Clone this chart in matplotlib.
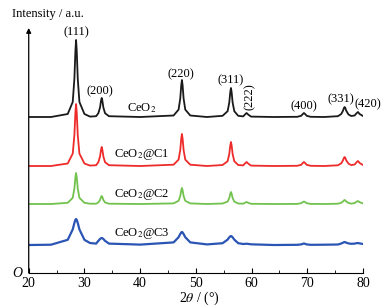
import numpy as np
import matplotlib.pyplot as plt
from matplotlib.ticker import MultipleLocator

plt.rcParams['font.family'] = ['Liberation Serif', 'DejaVu Serif']
plt.rcParams['mathtext.fontset'] = 'stix'

# 2theta sampling points (deg), read around each reflection
two_theta = [20.0, 24.0,
             27.0, 27.9, 28.2, 28.38, 28.5, 28.62, 28.8, 29.1, 30.0,
             31.0,
             32.1, 32.5, 32.8, 32.98, 33.1, 33.22, 33.4, 33.7, 34.4,
             40.0,
             46.0, 46.9, 47.2, 47.38, 47.5, 47.62, 47.8, 48.1, 49.0,
             52.0,
             54.8, 55.7, 56.0, 56.18, 56.3, 56.42, 56.6, 56.9, 57.6,
             58.5, 58.8, 59.1, 59.4, 59.9,
             64.0,
             68.2, 68.9, 69.2, 69.4, 69.6, 69.9, 70.6,
             73.0,
             75.5, 76.1, 76.4, 76.58, 76.7, 76.82, 77.0, 77.4, 77.9,
             78.5, 78.8, 79.1, 79.4, 80.0]

# intensities (a.u., already stacked)
ceo2 = [156, 156,
        159, 171, 194.5, 222, 233, 222, 194.5, 171, 159,
        156.4,
        156.8, 159.8, 165.5, 172.3, 175, 172.3, 165.5, 159.8, 156.8,
        156,
        157.5, 163.4, 174.5, 187.8, 193, 187.8, 174.5, 163.4, 157.5,
        156,
        157.2, 161.8, 170.5, 180.9, 185, 180.9, 170.5, 161.8, 157.2,
        156.6, 158.4, 160, 158.4, 156.4,
        156,
        156.2, 157.2, 159, 160, 159, 157.2, 156.2,
        156,
        156.8, 159, 162.2, 165, 166, 165, 162.2, 158.5, 157,
        157.5, 159.5, 161, 159, 157]

ceo2_c1 = [107, 107,
           109.5, 119.4, 138, 160.3, 169, 160.3, 138, 119.4, 109.5,
           107.4,
           107.8, 110.8, 116.5, 123.3, 126, 123.3, 116.5, 110.8, 107.8,
           107,
           108.3, 113.4, 123, 134.5, 139, 134.5, 123, 113.4, 108.3,
           107,
           108, 111.8, 119, 127.6, 131, 127.6, 119, 111.8, 108,
           107.6, 109.4, 111, 109.4, 107.4,
           107,
           107.2, 108.2, 110, 111, 110, 108.2, 107.2,
           107,
           107.7, 109.7, 112.6, 115.1, 116, 115.1, 112.6, 109.3, 107.9,
           108.5, 110.5, 112, 110, 108]

ceo2_c2 = [69, 69,
           70.2, 75.2, 84.5, 95.7, 100, 95.7, 84.5, 75.2, 70.2,
           69.3,
           69.3, 70.6, 73, 75.9, 77, 75.9, 73, 70.6, 69.3,
           69,
           69.6, 72.2, 77, 82.8, 85, 82.8, 77, 72.2, 69.6,
           69,
           69.5, 71.4, 75, 79.3, 81, 79.3, 75, 71.4, 69.5,
           69.3, 70.2, 71, 70.2, 69.2,
           69,
           69.1, 69.8, 70.9, 71.5, 70.9, 69.8, 69.1,
           69,
           69.3, 70.2, 71.5, 72.6, 73, 72.6, 71.5, 70, 69.4,
           69.9, 71.1, 72, 70.8, 69.6]

ceo2_c3 = [28, 28.3,
           33.2, 43.6, 50.1, 53.2, 54, 53.2, 50.1, 43.6, 33.2,
           30.0,
           29.4, 32.2, 34, 34.8, 35, 34.8, 34, 32.2, 29.4,
           28.4,
           30.6, 35.8, 39, 40.6, 41, 40.6, 39, 35.8, 30.6,
           28.6,
           29.8, 33.4, 35.7, 36.7, 37, 36.7, 35.7, 33.4, 29.8,
           29.0, 29.1, 29.3, 29.1, 28.7,
           28,
           28.2, 28.6, 29.2, 29.5, 29.2, 28.6, 28.2,
           28.3,
           28.5, 29.5, 30.3, 30.8, 31, 30.8, 30.3, 29.6, 29.2,
           29.4, 29.8, 30, 29.6, 29]

series = [ceo2, ceo2_c1, ceo2_c2, ceo2_c3]
names = ['CeO$_2$', 'CeO$_2$@C1', 'CeO$_2$@C2', 'CeO$_2$@C3']
colors = ['#1a1a1a', '#ee2b2b', '#72c24e', '#2a55b4']

hkl = ['(111)', '(200)', '(220)', '(311)', '(222)', '(400)', '(331)', '(420)']
hkl_pos = [(28.5, 241), (32.8, 182), (47.4, 199), (56.3, 193),
           (59.6, 176), (69.3, 167), (76.1, 174), (80.8, 169)]

fig = plt.figure(figsize=(3.86, 3.08), dpi=100)
ax = fig.add_axes([0.0744, 0.1136, 0.866, 0.7955])

for y, c, lw in zip(series, colors, [1.3, 1.3, 1.3, 1.6]):
    ax.plot(two_theta, y, color=c, lw=lw)

name_y = [165, 119, 79, 40]
for n, yy in zip(names, name_y):
    ax.text(40.3, yy, n, ha='center', va='center', fontsize=9)

for lab, (px, py) in zip(hkl, hkl_pos):
    rot = 90 if lab == '(222)' else 0
    ax.text(px, py, lab, ha='center', va='center', fontsize=9, rotation=rot)

ax.set_xlim(20, 80)
ax.set_ylim(0, 245)
ax.spines['top'].set_visible(False)
ax.spines['right'].set_visible(False)
ax.spines['left'].set_visible(False)
ax.set_yticks([])
ax.annotate('', xy=(0, 1.0), xycoords='axes fraction', xytext=(0, 0),
            arrowprops=dict(arrowstyle='-|>', lw=0.9, color='black',
                            mutation_scale=7, shrinkA=0, shrinkB=0))
ax.xaxis.set_major_locator(MultipleLocator(10))
ax.xaxis.set_minor_locator(MultipleLocator(5))
ax.tick_params(axis='x', which='major', direction='in', length=3.5, labelsize=10, pad=3)
ax.tick_params(axis='x', which='minor', direction='in', length=2)
ax.set_xlabel(r'2$\it{\theta}$ / (°)', fontsize=10)
ax.xaxis.set_label_coords(0.51, -0.068)
ax.text(-0.02, 0, 'O', transform=ax.transAxes, ha='right', va='center',
        fontsize=10, style='italic')
fig.text(0.031, 0.955, 'Intensity / a.u.', ha='left', va='center', fontsize=9)

plt.savefig('out.png', dpi=100)
